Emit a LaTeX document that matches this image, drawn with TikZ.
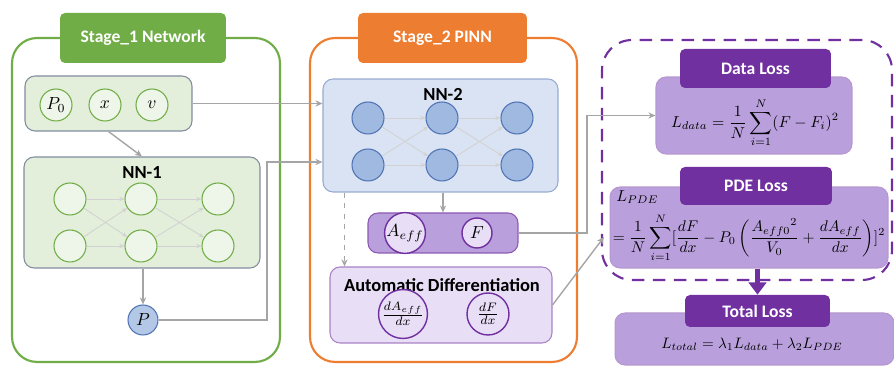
\documentclass[tikz,border=0pt]{standalone}
\usepackage{fontspec}
\usepackage{graphicx}
\setsansfont{Carlito}
\usetikzlibrary{arrows.meta}
\definecolor{stgreen}{RGB}{112,173,71}
\definecolor{ltgreen}{RGB}{227,239,218}
\definecolor{storange}{RGB}{237,125,49}
\definecolor{ltblue}{RGB}{218,227,243}
\definecolor{nnblue}{RGB}{160,185,225}
\definecolor{dkblue}{RGB}{80,115,180}
\definecolor{dkpurple}{RGB}{112,48,160}
\definecolor{mdpurple}{RGB}{185,160,220}
\definecolor{ltpurple}{RGB}{232,222,246}
\definecolor{edgegray}{RGB}{130,140,160}
\definecolor{wiregray}{RGB}{165,165,165}
\tikzset{
    stage/.style={draw, line width=1.2pt, rounded corners=0.5cm, inner sep=0pt},
    tab/.style={rounded corners=0.1cm, inner sep=0pt, text=white,
        font=\sffamily\bfseries\fontsize{10}{12}\selectfont},
    panel/.style={draw, line width=0.6pt, rounded corners=0.2cm, inner sep=0pt},
    title/.style={font=\sffamily\bfseries\fontsize{10.5}{12}\selectfont},
    neuron/.style={circle, draw=stgreen, fill=ltgreen!60!white, line width=0.6pt,
        minimum size=0.64cm, inner sep=0pt},
    bneuron/.style={circle, draw=dkblue, fill=nnblue, line width=0.6pt,
        minimum size=0.64cm, inner sep=0pt},
    pcirc/.style={circle, draw=dkpurple, fill=ltpurple, line width=0.8pt, inner sep=0pt},
    eq/.style={inner sep=0pt},
    wire/.style={draw=wiregray, line width=0.8pt, -{Stealth[length=4pt,width=3.5pt]}},
    link/.style={draw=gray!35, line width=0.5pt, -{Stealth[length=3pt,width=2.5pt]}}
}
\begin{document}
\begin{tikzpicture}[x=0.02cm, y=-0.02cm]
    \useasboundingbox (0,0) rectangle (894,367);

    \node[stage, draw=stgreen, minimum width=5.36cm, minimum height=6.48cm] (s1) at (146,200) {};
    \node[tab, fill=stgreen, minimum width=3.32cm, minimum height=1cm] (s1tab) at (143,38) {Stage\_1 Network};
    \node[panel, draw=edgegray, fill=ltgreen, minimum width=3.34cm, minimum height=1.1cm] (inbox) at (108.5,103.5) {};
    \node[neuron] (p0) at (56,105) {$P_0$};
    \node[neuron] (xin) at (105,105) {$x$};
    \node[neuron] (vin) at (152,105) {$v$};
    \node[panel, draw=edgegray, fill=ltgreen, minimum width=4.72cm, minimum height=2.22cm] (nn1) at (142,212.5) {};
    \node[title] (nn1title) at (142,173) {NN-1};
    \foreach \c/\x in {1/70, 2/141, 3/218}
        \foreach \r/\y in {1/199, 2/246}
            \node[neuron] (a\c\r) at (\x,\y) {};
    \foreach \c/\d in {1/2, 2/3}
        \foreach \r in {1,2}
            \foreach \s in {1,2}
                \draw[link] (a\c\r) -- (a\d\s);
    \node[circle, draw=dkblue, fill=nnblue!80!white, line width=0.6pt, minimum size=0.6cm, inner sep=0pt] (P) at (143,320) {$P$};

    \node[stage, draw=storange, minimum width=5.34cm, minimum height=6.48cm] (s2) at (443.5,200) {};
    \node[tab, fill=storange, minimum width=3.38cm, minimum height=1cm] (s2tab) at (442.5,38) {Stage\_2 PINN};
    \node[panel, draw=dkblue!60, fill=ltblue, minimum width=4.7cm, minimum height=2.26cm] (nn2) at (440.5,135.5) {};
    \node[title] (nn2title) at (443,94) {NN-2};
    \foreach \c/\x in {1/368, 2/442, 3/517}
        \foreach \r/\y in {1/118, 2/165}
            \node[bneuron] (b\c\r) at (\x,\y) {};
    \foreach \c/\d in {1/2, 2/3}
        \foreach \r in {1,2}
            \foreach \s in {1,2}
                \draw[link] (b\c\r) -- (b\d\s);
    \node[panel, draw=dkpurple!80, fill=mdpurple, minimum width=3cm, minimum height=0.8cm] (outbox) at (443,233) {};
    \node[pcirc, minimum size=0.6cm] (aeff) at (405,233) {$A_{eff}$};
    \node[pcirc, minimum size=0.6cm] (fout) at (477,233) {$F$};
    \node[panel, draw=dkpurple!60, fill=ltpurple, minimum width=4.44cm, minimum height=1.52cm] (adbox) at (441,305) {};
    \node[title] (adtitle) at (442,285) {Automatic Differentiation};
    \node[pcirc, minimum size=0.84cm] (daeff) at (403,314) {$\frac{dA_{eff}}{dx}$};
    \node[pcirc, minimum size=0.84cm] (dfdx) at (488,314) {$\frac{dF}{dx}$};

    \node[draw=dkpurple, line width=1.2pt, dash pattern=on 0.25cm off 0.17cm, rounded corners=0.6cm,
        minimum width=5.8cm, minimum height=4.8cm, inner sep=0pt] (frame) at (747,160) {};
    \node[panel, draw=dkpurple!50, fill=mdpurple, minimum width=3.92cm, minimum height=1.54cm] (databox) at (754,115.5) {};
    \node[tab, fill=dkpurple, minimum width=3.02cm, minimum height=0.78cm] (datatab) at (755.5,68.5) {Data Loss};
    \node[eq] (dataeq) at (755,123) {\scalebox{0.9}{$\displaystyle L_{data}=\frac{1}{N}\sum_{i=1}^{N}(F-F_i)^2$}};
    \node[panel, draw=dkpurple!50, fill=mdpurple, minimum width=5.56cm, minimum height=1.62cm] (pdebox) at (749,227.5) {};
    \node[tab, fill=dkpurple, minimum width=3.04cm, minimum height=0.76cm] (pdetab) at (756,186) {PDE Loss};
    \node[eq, anchor=west] (pdelhs) at (616,197) {\scalebox{0.9}{$L_{PDE}$}};
    \node[eq] (pdeeq) at (749,238) {\scalebox{0.88}{$\displaystyle =\frac{1}{N}\sum_{i=1}^{N}[\frac{dF}{dx}-P_0\left(\frac{{A_{eff0}}^2}{V_0}+\frac{dA_{eff}}{dx}\right)]^2$}};
    \node[panel, draw=dkpurple!50, fill=mdpurple, minimum width=5.58cm, minimum height=1.04cm] (totalbox) at (754.5,339) {};
    \node[tab, fill=dkpurple, minimum width=2.9cm, minimum height=0.64cm] (totaltab) at (757.5,311) {Total Loss};
    \node[eq] (totaleq) at (752,344) {\scalebox{0.86}{$L_{total}=\lambda_1L_{data}+\lambda_2L_{PDE}$}};

    \coordinate (bend1) at (267,162);
    \coordinate (bend2) at (587,233);
    \coordinate (pdein) at (604,237);
    \draw[wire] (inbox.east) -- (inbox.east -| nn2.west);
    \draw[wire] (inbox.south) -- (nn1.north);
    \draw[wire] (nn1.south -| P) -- (P.north);
    \draw[wire] (P.east) -| (bend1) -- (bend1 -| nn2.west);
    \draw[wire] (nn2.south -| outbox) -- (outbox.north);
    \draw[wire, dashed] ([xshift=0.44cm]nn2.south west) -- ([xshift=0.44cm]nn2.south west |- adbox.north);
    \draw[wire] (outbox.east) -- (bend2) |- (databox.west);
    \draw[wire] (adbox.east) -- (pdein);
    \draw[dkpurple, line width=3pt, -{Triangle[length=7pt,width=10pt]}] (pdebox.south -| totaltab) -- (totaltab.north);
\end{tikzpicture}
\end{document}
